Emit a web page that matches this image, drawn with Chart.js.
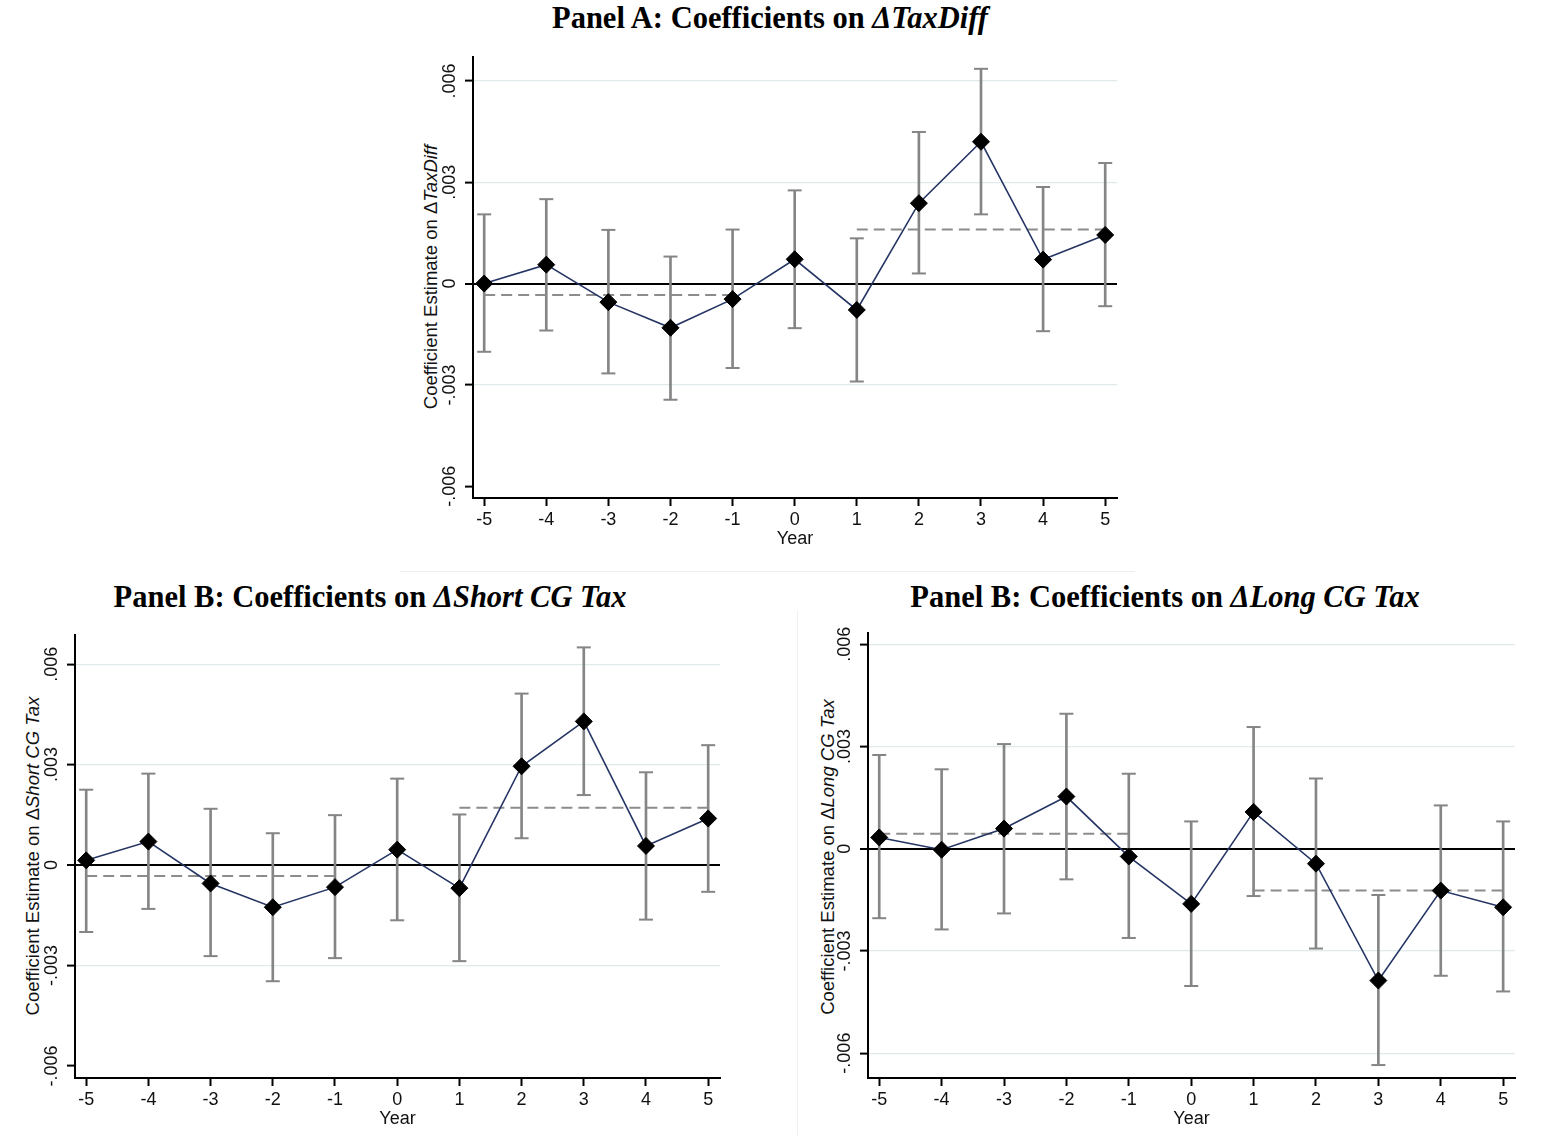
<!DOCTYPE html>
<html>
<head>
<meta charset="utf-8">
<script src="https://cdn.jsdelivr.net/npm/chart.js@4.4.1/dist/chart.umd.min.js"></script>
<style>
  body { margin: 0; background: #fff; width: 1562px; height: 1135px; position: relative; overflow: hidden; }
  .panel-title { position: absolute; font-family: "Liberation Serif", "Times New Roman", serif; font-weight: bold; font-size: 30.5px; color: #000; white-space: nowrap; transform: translate(-50%, -50%); }
  .panel-title i { font-style: italic; }
  .ytitle { position: absolute; font-family: "Liberation Sans", Arial, sans-serif; font-size: 18.5px; color: #111; white-space: nowrap; transform: translate(-50%, -50%) rotate(-90deg); }
  .box { position: absolute; }
  .sep-h { position: absolute; left: 400px; top: 571px; width: 735px; height: 1px; background: #eeeeee; }
  .sep-v { position: absolute; left: 797px; top: 610px; width: 1px; height: 525px; background: #f0f0f0; }
</style>
</head>
<body>
<div class="panel-title" style="left:770px; top:18px;">Panel A: Coefficients on <i>ΔTaxDiff</i></div>
<div class="panel-title" style="left:370px; top:597px;">Panel B: Coefficients on <i>ΔShort CG Tax</i></div>
<div class="panel-title" style="left:1165px; top:597px;">Panel B: Coefficients on <i>ΔLong CG Tax</i></div>

<div class="ytitle" style="left:431px; top:277px;">Coefficient Estimate on Δ<i>TaxDiff</i></div>
<div class="ytitle" style="left:33px; top:856px;">Coefficient Estimate on Δ<i>Short CG Tax</i></div>
<div class="ytitle" style="left:828px; top:857px;">Coefficient Estimate on Δ<i>Long CG Tax</i></div>

<div class="sep-h"></div>
<div class="sep-v"></div>

<div class="box" style="left:400px; top:40px;"><canvas id="chartA" width="740" height="520"></canvas></div>
<div class="box" style="left:0px; top:620px;"><canvas id="chartShort" width="740" height="515"></canvas></div>
<div class="box" style="left:795px; top:620px;"><canvas id="chartLong" width="740" height="515"></canvas></div>

<script>
// event-time axis and y tick labels
const years = [-5, -4, -3, -2, -1, 0, 1, 2, 3, 4, 5];
const yTicks = [-0.006, -0.003, 0, 0.003, 0.006];
const yTickLabels = ['-.006', '-.003', '0', '.003', '.006'];

// Panel A: ΔTaxDiff
const taxDiffCoef = [0.00000, 0.00056, -0.00055, -0.00131, -0.00046, 0.00072, -0.00078, 0.00238, 0.00420, 0.00071, 0.00144];
const taxDiffLow  = [-0.00202, -0.00139, -0.00266, -0.00344, -0.00250, -0.00132, -0.00290, 0.00030, 0.00205, -0.00141, -0.00067];
const taxDiffHigh = [0.00205, 0.00250, 0.00159, 0.00080, 0.00160, 0.00276, 0.00134, 0.00449, 0.00636, 0.00286, 0.00357];
const taxDiffMeans = [-0.00034, 0.00160]; // pre (-5..-1), post (1..5)

// Panel B left: ΔShort CG Tax
const shortCoef = [0.00014, 0.00070, -0.00055, -0.00126, -0.00066, 0.00046, -0.00069, 0.00295, 0.00429, 0.00057, 0.00139];
const shortLow  = [-0.00200, -0.00131, -0.00272, -0.00347, -0.00278, -0.00165, -0.00287, 0.00080, 0.00209, -0.00163, -0.00080];
const shortHigh = [0.00225, 0.00273, 0.00168, 0.00095, 0.00149, 0.00258, 0.00151, 0.00512, 0.00650, 0.00277, 0.00358];
const shortMeans = [-0.00033, 0.00171];

// Panel B right: ΔLong CG Tax
const longCoef = [0.00033, -0.00003, 0.00059, 0.00153, -0.00023, -0.00162, 0.00108, -0.00044, -0.00387, -0.00123, -0.00172];
const longLow  = [-0.00204, -0.00237, -0.00190, -0.00090, -0.00262, -0.00403, -0.00139, -0.00293, -0.00635, -0.00373, -0.00419];
const longHigh = [0.00275, 0.00233, 0.00307, 0.00396, 0.00220, 0.00080, 0.00357, 0.00206, -0.00136, 0.00127, 0.00080];
const longMeans = [0.00044, -0.00123];

// which years each dashed mean line covers
const preYears = [-5, -1];
const postYears = [1, 5];

Chart.defaults.font.family = '"Liberation Sans", Arial, sans-serif';
Chart.defaults.color = '#111';

function makePanel(id, coef, low, high, means, opts) {
    const ctx = document.getElementById(id).getContext('2d');
    const ciColor = '#858585';
    return new Chart(ctx, {
        type: 'line',
        data: {
            datasets: [
                {
                    type: 'bar',
                    data: years.map((x, i) => ({ x: x, y: [low[i], high[i]] })),
                    backgroundColor: ciColor,
                    barThickness: 2,
                    order: 4
                },
                {
                    type: 'scatter',
                    data: years.flatMap((x, i) => [{ x: x, y: low[i] }, { x: x, y: high[i] }]),
                    pointStyle: 'line',
                    pointRadius: 7,
                    borderColor: ciColor,
                    borderWidth: 2,
                    order: 3
                },
                {
                    data: preYears.map(x => ({ x: x, y: means[0] })),
                    borderColor: '#8c8c8c',
                    borderWidth: 2,
                    borderDash: [11, 6],
                    pointRadius: 0,
                    order: 2
                },
                {
                    data: postYears.map(x => ({ x: x, y: means[1] })),
                    borderColor: '#8c8c8c',
                    borderWidth: 2,
                    borderDash: [11, 6],
                    pointRadius: 0,
                    order: 2
                },
                {
                    data: years.map((x, i) => ({ x: x, y: coef[i] })),
                    borderColor: '#243463',
                    borderWidth: 1.6,
                    pointStyle: 'rectRot',
                    pointRadius: 8.5,
                    pointBackgroundColor: '#000',
                    pointBorderColor: '#000',
                    pointBorderWidth: 1,
                    tension: 0,
                    order: 1
                }
            ]
        },
        options: {
            responsive: false,
            animation: false,
            layout: { padding: { top: opts.padTop, right: opts.padRight, bottom: opts.padBottom, left: 0 } },
            plugins: { legend: { display: false }, tooltip: { enabled: false } },
            scales: {
                x: {
                    type: 'linear',
                    min: -5.18,
                    max: 5.19,
                    offset: false,
                    afterBuildTicks: s => { s.ticks = years.map(v => ({ value: v })); },
                    afterFit: s => { s.height = opts.xHeight; },
                    ticks: { font: { size: 18 }, color: '#111', padding: 3, maxRotation: 0 },
                    grid: { offset: false, drawOnChartArea: false, tickLength: 8, tickColor: '#000', tickWidth: 2 },
                    border: { color: '#000', width: 2 },
                    title: { display: true, text: 'Year', font: { size: 18 }, color: '#111', padding: 0 }
                },
                y: {
                    type: 'linear',
                    min: opts.yMin,
                    max: opts.yMax,
                    afterBuildTicks: s => { s.ticks = yTicks.map(v => ({ value: v })); },
                    afterFit: s => { s.width = opts.yWidth; },
                    ticks: {
                        font: { size: 18 },
                        color: '#111',
                        minRotation: 90,
                        maxRotation: 90,
                        crossAlign: 'center',
                        padding: -6,
                        callback: v => yTickLabels[yTicks.indexOf(v)]
                    },
                    grid: {
                        tickLength: 8,
                        tickColor: '#000',
                        tickWidth: 2,
                        color: c => {
                            const v = c.tick ? c.tick.value : null;
                            if (v === 0) return '#000';
                            if (opts.hideGrid.includes(v)) return 'rgba(0,0,0,0)';
                            return '#e0eaea';
                        },
                        lineWidth: c => (c.tick && c.tick.value === 0 ? 2 : 1.2)
                    },
                    border: { color: '#000', width: 2 }
                }
            }
        }
    });
}

makePanel('chartA', taxDiffCoef, taxDiffLow, taxDiffHigh, taxDiffMeans, {
    yMin: -0.00635, yMax: 0.00671, yWidth: 73, xHeight: 52, padTop: 17, padRight: 23, padBottom: 10, hideGrid: [-0.006]
});
makePanel('chartShort', shortCoef, shortLow, shortHigh, shortMeans, {
    yMin: -0.00636, yMax: 0.00687, yWidth: 75, xHeight: 52, padTop: 15, padRight: 20, padBottom: 5, hideGrid: [-0.006]
});
makePanel('chartLong', longCoef, longLow, longHigh, longMeans, {
    yMin: -0.00673, yMax: 0.00633, yWidth: 73, xHeight: 52, padTop: 13, padRight: 20, padBottom: 5, hideGrid: []
});
</script>
</body>
</html>
